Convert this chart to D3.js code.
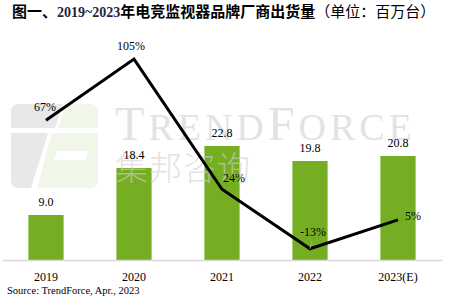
<!DOCTYPE html>
<html>
<head>
<meta charset="utf-8">
<script src="https://cdn.jsdelivr.net/npm/d3@7"></script>
<style>
  html, body { margin: 0; padding: 0; background: #fff; }
  svg { display: block; }
</style>
</head>
<body>
<div id="chart"></div>
<script>
// 出货量（百万台）和年增率（%）
const years = ['2019', '2020', '2021', '2022', '2023(E)'];
const shipments = [9.0, 18.4, 22.8, 19.8, 20.8];
const growth = [67, 105, 24, -13, 5];

const width = 455, height = 308;
let [mt, mr, mb, ml] = [35, 13, 48, 2];

// 百分比标签相对折线点的偏移
const pctOffset = [[-1, -9], [-3, -9], [1, -7], [3, -13], [7, 0]];

const svg = d3.select('#chart')
  .append('svg')
  .attr('width', width)
  .attr('height', height)
  .attr('viewBox', [0, 0, width, height]);

const x = d3.scaleBand()
  .domain(years)
  .range([ml, width - mr])
  .paddingInner(0.6)
  .paddingOuter(0.3);

const y = d3.scaleLinear([0, 45], [height - mb, mt]);
const y2 = d3.scaleLinear([-20, 120], [height - mb, mt]);

const cx = d => x(d) + x.bandwidth() / 2;

// 标题
const title = svg.append('text')
  .attr('x', 12)
  .attr('y', 17)
  .style('font-size', '15px')
  .style('font-family', '"Noto Sans CJK SC", sans-serif')
  .attr('fill', '#000');
title.append('tspan').attr('font-weight', 'bold').text('图一、');
title.append('tspan')
  .attr('font-weight', 'bold')
  .style('font-family', '"Liberation Serif", serif')
  .style('font-size', '14px')
  .attr('fill', '#23233f')
  .text('2019~2023');
title.append('tspan').attr('font-weight', 'bold').text('年电竞监视器品牌厂商出货量');
title.append('tspan').attr('font-weight', 'normal').text('（单位：百万台）');

// 柱子
svg.append('g')
  .selectAll('rect')
  .data(shipments)
  .join('rect')
  .attr('x', (d, i) => x(years[i]))
  .attr('width', x.bandwidth())
  .attr('y', d => y(d))
  .attr('height', d => y(0) - y(d))
  .attr('fill', '#75ae23');

// 水印 logo
const wm = svg.append('g');
wm.append('path')
  .attr('d', 'M11,112 Q11,104 19,104 L63,104 L55,128 L11,128 Z M11,133 L48,133 L31,188 L19,188 Q11,188 11,180 Z')
  .attr('fill', '#e8e8e8');
wm.append('path')
  .attr('d', 'M66,104 L90,104 Q98,104 98,112 L98,128 L58,128 Z M52,133 L98,133 L98,180 Q98,188 90,188 L37,188 Z M57,151 L88,151 L86,160 L54,160 Z')
  .attr('fill', '#f0f6e8')
  .attr('fill-rule', 'evenodd');

const wmText = wm.append('text')
  .attr('x', 115)
  .attr('y', 140)
  .style('font-family', '"Liberation Serif", serif')
  .attr('letter-spacing', 4)
  .attr('fill', '#cfcfcf')
  .attr('fill-opacity', 0.6);
wmText.append('tspan').style('font-size', '48px').text('T');
wmText.append('tspan').style('font-size', '38px').text('REND');
wmText.append('tspan').style('font-size', '48px').text('F');
wmText.append('tspan').style('font-size', '38px').text('ORCE');

wm.append('text')
  .attr('x', 115)
  .attr('y', 180)
  .style('font-family', '"Noto Sans CJK SC", sans-serif')
  .style('font-size', '33px')
  .attr('font-weight', 300)
  .attr('letter-spacing', 1)
  .attr('fill', '#cfcfcf')
  .attr('fill-opacity', 0.6)
  .text('集邦咨询');

// x轴
const axis = d3.axisBottom(x).tickSize(0).tickSizeOuter(0).tickPadding(12);
const gx = svg.append('g')
  .attr('transform', `translate(0,${y(0)})`)
  .call(axis);
gx.select('.domain').attr('stroke', '#d9d9d9').attr('stroke-width', 1.5);
gx.selectAll('text')
  .style('font-family', '"Liberation Serif", serif')
  .style('font-size', '12px')
  .attr('fill', '#000');

// 柱子数值
svg.append('g')
  .style('font', '12px "Liberation Serif", serif')
  .attr('text-anchor', 'middle')
  .selectAll('text')
  .data(shipments)
  .join('text')
  .attr('x', (d, i) => cx(years[i]))
  .attr('y', d => y(d) - 9)
  .text(d => d3.format('.1f')(d));

// 年增率折线
const line = d3.line()
  .x((d, i) => cx(years[i]))
  .y(d => y2(d));

svg.append('path')
  .datum(growth)
  .attr('d', line)
  .attr('fill', 'none')
  .attr('stroke', '#000')
  .attr('stroke-width', 3);

// -13% 引导线
svg.append('line')
  .attr('x1', cx(years[3]))
  .attr('y1', y2(growth[3]))
  .attr('x2', cx(years[3]) + 2)
  .attr('y2', y2(growth[3]) - 8)
  .attr('stroke', '#a6a6a6')
  .attr('stroke-width', 1);

svg.append('g')
  .style('font', '12px "Liberation Serif", serif')
  .selectAll('text')
  .data(growth)
  .join('text')
  .attr('text-anchor', (d, i) => (i === 2 || i === 4) ? 'start' : 'middle')
  .attr('x', (d, i) => cx(years[i]) + pctOffset[i][0])
  .attr('y', (d, i) => y2(d) + pctOffset[i][1])
  .text(d => d + '%');

// 来源
svg.append('text')
  .attr('x', 7)
  .attr('y', 294)
  .style('font', '10.5px "Liberation Serif", serif')
  .text('Source: TrendForce, Apr., 2023');
</script>
</body>
</html>
